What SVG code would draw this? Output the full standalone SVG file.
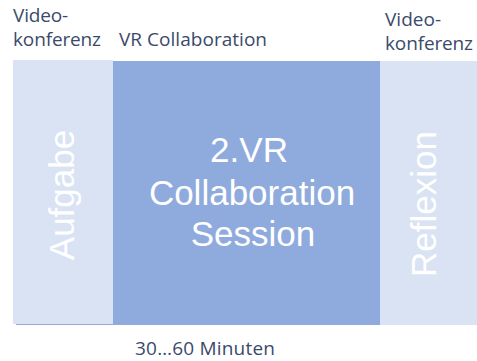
<svg xmlns="http://www.w3.org/2000/svg" width="477" height="361" viewBox="0 0 477 361">
  <style>
    .light { fill: #DAE3F3; }
    .mid { fill: #8FAADC; }
    .lbl { font-family: "Open Sans", "Liberation Sans", sans-serif; font-size: 19px; fill: #3B4A6B; }
    .big { font-family: "Liberation Sans", Arial, sans-serif; font-size: 35px; fill: #FFFFFF; text-anchor: middle; }
  </style>
  <rect width="477" height="361" fill="#FFFFFF"/>
  <g id="session">
    <rect class="mid" x="16" y="61" width="364" height="264"/>
    <text class="big" x="249" y="162">2.VR</text>
    <text class="big" x="252" y="205">Collaboration</text>
    <text class="big" x="253" y="246">Session</text>
  </g>
  <g id="aufgabe">
    <rect class="light" x="13" y="60" width="100" height="264"/>
    <text class="big" transform="translate(74,195) rotate(-90)">Aufgabe</text>
  </g>
  <g id="reflexion">
    <rect class="light" x="380" y="61" width="97" height="264"/>
    <text class="big" transform="translate(436,204) rotate(-90)">Reflexion</text>
  </g>
  <g id="labels">
    <text class="lbl" x="13" y="22" textLength="55">Video-</text>
    <text class="lbl" x="13" y="46" textLength="88">konferenz</text>
    <text class="lbl" x="119" y="46" textLength="148">VR Collaboration</text>
    <text class="lbl" x="385" y="26" textLength="56">Video-</text>
    <text class="lbl" x="385" y="50" textLength="88">konferenz</text>
    <text class="lbl" x="135" y="355" textLength="140">30…60 Minuten</text>
  </g>
  <g id="connectors"/>
</svg>
